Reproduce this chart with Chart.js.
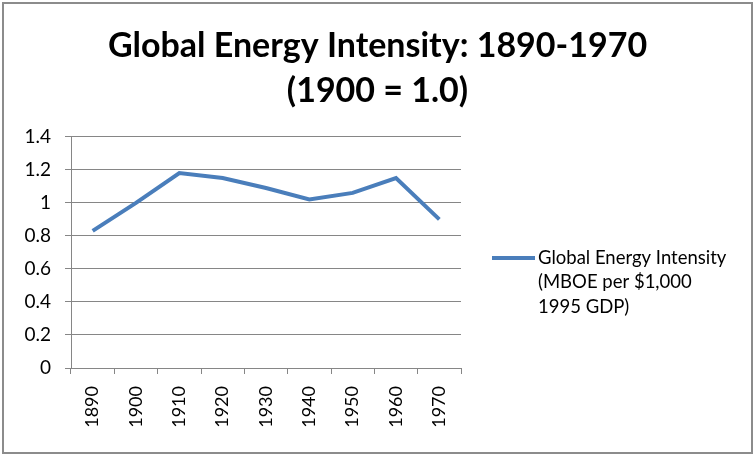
<!DOCTYPE html>
<html>
<head>
<meta charset="utf-8">
<script src="https://cdn.jsdelivr.net/npm/chart.js@4.4.0/dist/chart.umd.min.js"></script>
<style>
  html, body { margin: 0; padding: 0; background: #fff; }
  #wrap { width: 747px; height: 448px; border: 2px solid #8c8c8c; position: absolute; left: 2px; top: 2px; }
  canvas { display: block; }
</style>
</head>
<body>
<div id="wrap"><canvas id="energyChart" width="747" height="448"></canvas></div>
<script>
const years = ['1890', '1900', '1910', '1920', '1930', '1940', '1950', '1960', '1970'];
const intensity = [0.83, 1.0, 1.18, 1.15, 1.09, 1.02, 1.06, 1.15, 0.9];
const seriesName = 'Global Energy Intensity (MBOE per $1,000 1995 GDP)';
const legendLines = ['Global Energy Intensity', '(MBOE per $1,000', '1995 GDP)'];
const titleLines = ['Global Energy Intensity: 1890-1970', '(1900 = 1.0)'];

const fontFamily = "Lato, 'Open Sans', sans-serif";

// legend drawn by hand so the label can wrap like Excel's
const sideLegend = {
    id: 'sideLegend',
    afterDraw(chart) {
        const ctx = chart.ctx;
        const ds = chart.data.datasets[0];
        const x = chart.chartArea.right + 31, y = 254;
        ctx.save();
        ctx.strokeStyle = ds.borderColor;
        ctx.lineWidth = 4;
        ctx.beginPath();
        ctx.moveTo(x, y);
        ctx.lineTo(x + 43, y);
        ctx.stroke();
        ctx.fillStyle = '#000';
        ctx.font = "18.5px " + fontFamily;
        ctx.textBaseline = 'middle';
        legendLines.forEach((line, i) => {
            ctx.fillText(line, x + 46, y + i * 24.5);
        });
        ctx.restore();
    }
};

const ctx = document.getElementById('energyChart').getContext('2d');
new Chart(ctx, {
    type: 'line',
    data: {
        labels: years,
        datasets: [{
            label: seriesName,
            data: intensity,
            borderColor: '#4A7EBB',
            borderWidth: 4,
            pointRadius: 0,
            tension: 0,
            fill: false
        }]
    },
    options: {
        responsive: false,
        animation: false,
        layout: { padding: 0 },
        plugins: {
            legend: { display: false },
            tooltip: { enabled: false },
            title: {
                display: true,
                text: titleLines,
                color: '#000',
                font: { family: fontFamily, size: 34, weight: 'bold', lineHeight: 1.32 },
                padding: { top: 20, bottom: 23 }
            }
        },
        scales: {
            x: {
                offset: true,
                afterFit: s => { s.height = 84; },
                grid: {
                    display: true,
                    offset: true,
                    drawOnChartArea: false,
                    drawTicks: true,
                    tickLength: 6,
                    color: '#868686'
                },
                border: { color: '#868686' },
                ticks: {
                    color: '#000',
                    font: { family: fontFamily, size: 18 },
                    maxRotation: 90,
                    minRotation: 90,
                    padding: 12
                }
            },
            y: {
                min: 0,
                max: 1.4,
                afterFit: s => { s.width = 67; },
                grid: { color: '#868686', tickLength: 6 },
                border: { color: '#868686' },
                ticks: {
                    stepSize: 0.2,
                    color: '#000',
                    font: { family: fontFamily, size: 19 },
                    padding: 14,
                    callback: v => Math.round(v * 10) / 10
                }
            },
            // empty right-hand axis only reserves room for the legend
            side: {
                type: 'linear',
                position: 'right',
                afterFit: s => { s.width = 290; },
                grid: { display: false },
                border: { display: false },
                ticks: { display: false }
            }
        }
    },
    plugins: [sideLegend]
});
</script>
</body>
</html>
